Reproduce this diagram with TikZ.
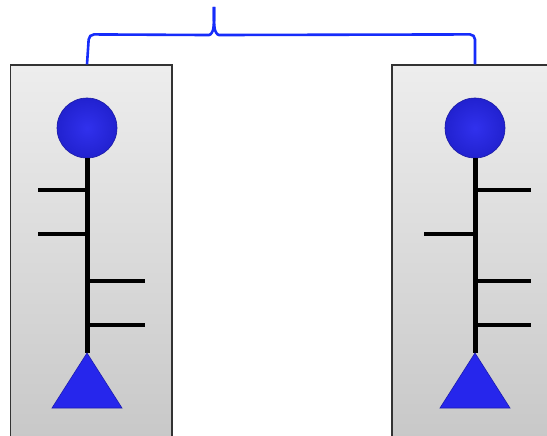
\documentclass[tikz,border=0pt]{standalone}
\usetikzlibrary{calc}
\definecolor{headblue}{RGB}{38,38,236}
\definecolor{braceblue}{RGB}{22,44,250}
\tikzset{
  panel/.style={draw=black!80, line width=1.2pt, minimum width=#1, minimum height=385pt,
    inner sep=0pt, top color=black!7, bottom color=black!22},
  head/.style={circle, minimum size=60pt, inner sep=0pt, draw=headblue!70!black, line width=0.6pt,
    inner color=headblue!95!white, outer color=headblue!88!black},
  foot/.style={fill=headblue, draw=headblue!75!black, line width=0.6pt},
  stem/.style={line width=5pt},
  tick/.style={line width=4pt},
  brace/.style={draw=braceblue, line width=2.6pt, rounded corners=5pt}
}
\begin{document}
\begin{tikzpicture}[x=1pt,y=-1pt]
    \clip (0,0) rectangle (547,436);
    \fill[white] (0,0) rectangle (547,436);
    % left chain
    \node[panel=161.5pt] (lpanel) at (91.25,257.5) {};
    \node[head] (lhead) at (87,128) {};
    \coordinate (lfoot) at (87,353);
    \draw[stem] (lhead.south) -- (lfoot);
    \draw[tick] (87,190) -- ++(-49,0);
    \draw[tick] (87,234) -- ++(-49,0);
    \draw[tick] (87,281) -- ++(58,0);
    \draw[tick] (87,325) -- ++(58,0);
    \filldraw[foot] (lfoot) -- ++(-35,55) -- ++(70,0) -- cycle;
    % right chain
    \node[panel=168pt] (rpanel) at (476,257.5) {};
    \node[head] (rhead) at (475,128) {};
    \coordinate (rfoot) at (475,353);
    \draw[stem] (rhead.south) -- (rfoot);
    \draw[tick] (475,190) -- ++(56,0);
    \draw[tick] (475,234) -- ++(-51,0);
    \draw[tick] (475,281) -- ++(56,0);
    \draw[tick] (475,325) -- ++(56,0);
    \filldraw[foot] (rfoot) -- ++(-35,55) -- ++(70,0) -- cycle;
    % brace over both
    \coordinate (lend) at (lpanel.north -| lhead);
    \coordinate (rend) at (rpanel.north -| rhead);
    \draw[brace] (lend) -- ++(2,-30) -- (204,35)
      .. controls (211,35) and (213,31) .. (214,24) -- (214,7);
    \draw[brace] (214,7) -- (214,24)
      .. controls (215,31) and (217,35) .. (224,35) -- ($(rend)+(0,-30)$) -- (rend);
\end{tikzpicture}
\end{document}
